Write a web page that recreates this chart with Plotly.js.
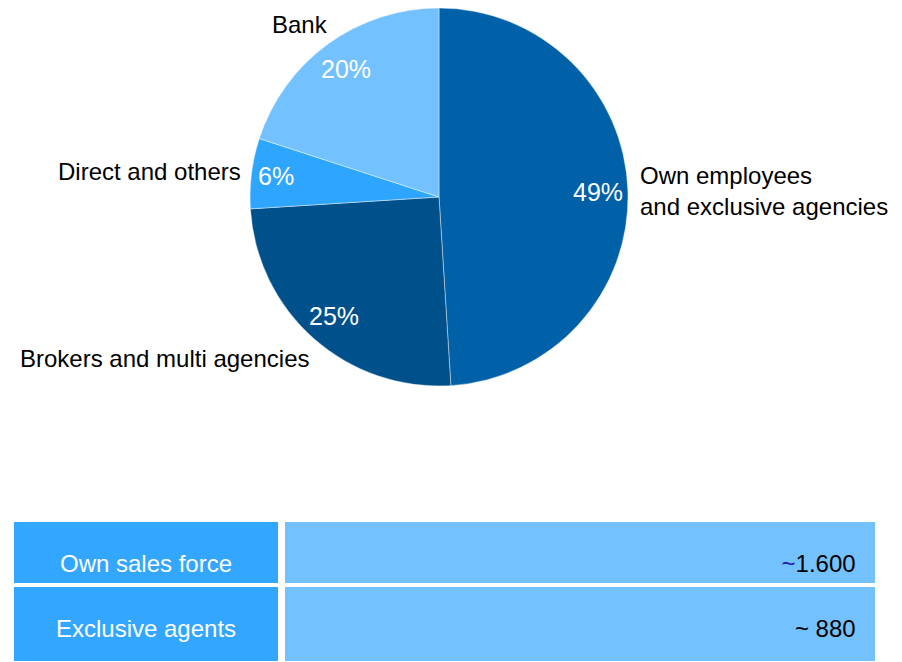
<!DOCTYPE html>
<html>
<head>
<meta charset="utf-8">
<script src="https://cdn.plot.ly/plotly-3.0.1.min.js"></script>
<style>html,body{margin:0;padding:0;background:#fff;}#chart{width:902px;height:662px;}</style>
</head>
<body>
<div id="chart"></div>
<script>
// ---- data ----
var channels = ["Own employees<br>and exclusive agencies", "Brokers and multi agencies", "Direct and others", "Bank"];
var shares = [49, 25, 6, 20];
var sliceColors = ["#0060A8", "#00508C", "#2EA6FF", "#73C2FF"];
var tableLabels = ["Own sales force", "Exclusive agents"];
var tableValues = ["<span style='color:#2020B0'>~</span>1.600", "~ 880"];

// ---- layout constants (style) ----
var W = 902, H = 662;
var cx = 439, cy = 197, R = 189;
var pctFrac = [0.84, 0.84, 0.87, 0.84];
var lblFrac = [1.07, 1.10, 1.06, 1.15];
var lblXAnchor = ["left", "right", "right", "center"];
var lblAlign = ["left", "right", "right", "center"];
var lblShift = [[-3,0],[9,-6],[3,0],[-11,-3]];
var FONT = "Liberation Sans, Arial, sans-serif";
var NB = "\u00a0\u00a0";

var total = shares.reduce(function(a,b){return a+b;},0);
var annotations = [];
var cum = 0;
shares.forEach(function(v, i){
  var mid = (cum + v/2) / total * 2 * Math.PI; // clockwise from top
  cum += v;
  var sx = Math.sin(mid), sy = Math.cos(mid);
  var px = cx + pctFrac[i]*R*sx, py = cy - pctFrac[i]*R*sy;
  annotations.push({xref:"paper", yref:"paper", x: px/W, y: 1-py/H, text: Math.round(v/total*100)+"%",
    showarrow:false, xanchor:"center", yanchor:"middle", font:{family:FONT, size:25, color:"#ffffff"}});
  var lx = cx + lblFrac[i]*R*sx, ly = cy - lblFrac[i]*R*sy;
  annotations.push({xref:"paper", yref:"paper", x: lx/W, y: 1-ly/H, text: channels[i],
    showarrow:false, xanchor:lblXAnchor[i], yanchor:"middle", align:lblAlign[i],
    xshift: lblShift[i][0], yshift: lblShift[i][1],
    font:{family:FONT, size:24, color:"#000000"}});
});

var pie = {
  type: "pie",
  labels: channels,
  values: shares,
  sort: false,
  direction: "clockwise",
  rotation: 0,
  textinfo: "none",
  hoverinfo: "none",
  marker: {colors: sliceColors, line: {color: "rgba(255,255,255,0.6)", width: 0.7}},
  domain: {x: [(cx-R)/W, (cx+R)/W], y: [1-(cy+R)/H, 1-(cy-R)/H]},
  showlegend: false
};

function cellText(t){ return "\u00a0<br><span style='font-size:24px'>" + t + "</span>"; }

var lw = 4;
var table = {
  type: "table",
  domain: {x: [12/W, 877/W], y: [0, 1-520/H]},
  columnwidth: [268, 3, 594],
  header: {
    values: [[cellText(tableLabels[0])], [""], [cellText(tableValues[0] + NB)]],
    height: 64,
    align: ["center", "center", "right"],
    fill: {color: ["#33A6FF", "#ffffff", "#73C2FF"]},
    line: {color: "#ffffff", width: lw},
    font: {family: FONT, size: 20, color: ["#ffffff", "#ffffff", "#000000"]}
  },
  cells: {
    values: [[cellText(tableLabels[1])], [""], [cellText(tableValues[1] + NB)]],
    height: 78,
    align: ["center", "center", "right"],
    fill: {color: ["#33A6FF", "#ffffff", "#73C2FF"]},
    line: {color: "#ffffff", width: lw},
    font: {family: FONT, size: 20, color: ["#ffffff", "#ffffff", "#000000"]}
  }
};

var layout = {
  width: W, height: H,
  margin: {l:0, r:0, t:0, b:0},
  paper_bgcolor: "#ffffff",
  plot_bgcolor: "#ffffff",
  showlegend: false,
  annotations: annotations
};

Plotly.newPlot("chart", [pie, table], layout, {displayModeBar: false, staticPlot: true});
</script>
</body>
</html>
